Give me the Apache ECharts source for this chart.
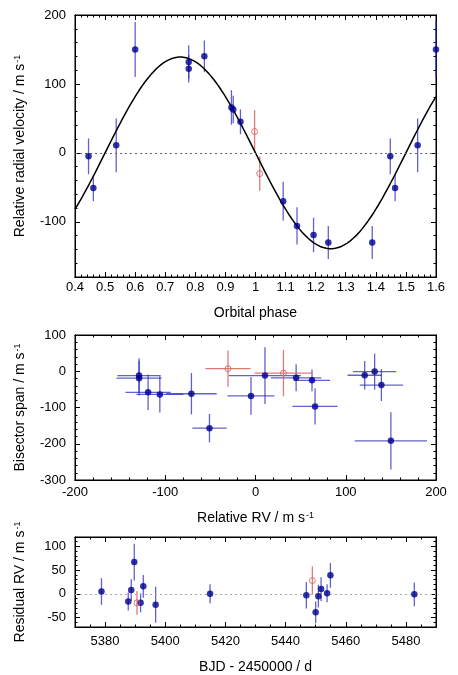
<!DOCTYPE html>
<html>
<head>
<meta charset="utf-8">
<script src="https://cdn.jsdelivr.net/npm/echarts@6/dist/echarts.min.js"></script>
<style>
html, body { margin: 0; padding: 0; background: #fff; }
#main { width: 458px; height: 675px; }
</style>
</head>
<body>
<div id="main"></div>
<script>
// --- top panel: radial velocity vs orbital phase ---
var phaseBlue = [0.445, 0.461, 0.537, 0.600, 0.778, 0.778, 0.830, 0.920, 0.926, 0.950, 1.092, 1.138, 1.193, 1.242, 1.388, 1.448, 1.464, 1.539, 1.600];
var rvBlue    = [-5, -51, 11, 150, 132, 122, 140, 66, 63, 45, -70, -106, -119, -130, -130, -5, -51, 11, 150];
var rvErrBlue = [26, 19, 39, 40, 24, 20, 23, 25, 20, 18, 28, 27, 25, 24, 24, 26, 19, 39, 40];
var phaseRed  = [0.997, 1.014];
var rvRed     = [31, -30];
var rvErrRed  = [31, 25];
var K = 139;          // semi-amplitude of the fitted orbit, m/s

// --- middle panel: bisector span vs relative RV ---
var bsRvBlue    = [-129, -129, -119, -106, -71, -51, -5, 10.5, 45, 62.6, 66, 121, 132, 139.5, 150];
var bsRvErrBlue = [24, 25, 25, 26, 28, 19, 26, 40, 28, 20, 25, 19, 24, 24, 40];
var bsBlue      = [-12, -19, -58, -64, -62, -157, -68, -12, -18, -25, -97, -11, -1, -38, -192];
var bsErrBlue   = [48, 48, 49, 50, 57, 39, 52, 78, 37, 30, 50, 39, 50, 44, 79];
var bsRvRed     = [-30.5, 31];
var bsRvErrRed  = [25, 32];
var bsRed       = [7, -5];
var bsErrRed    = [50, 64];

// --- bottom panel: residuals vs time ---
var bjdBlue    = [5378.8, 5387.7, 5388.7, 5389.7, 5391.8, 5392.7, 5396.8, 5414.9, 5446.9, 5450.0, 5450.9, 5451.8, 5453.8, 5454.9, 5482.8];
var resBlue    = [5, -16, 8, 67, -19, 16, -23, 0, -3, -39, -5, 10, 1, 39, -1];
var resErrBlue = [28, 19, 23, 39, 20, 24, 38, 20, 28, 23, 24, 25, 19, 26, 25];
var bjdRed     = [5390.6, 5448.9];
var resRed     = [-19, 28];
var resErrRed  = [25, 30];

// tick positions
var phaseTicks = [0.4, 0.5, 0.6, 0.7, 0.8, 0.9, 1.0, 1.1, 1.2, 1.3, 1.4, 1.5, 1.6];
var rvTicks    = [-100, 0, 100, 200];
var bsXTicks   = [-200, -100, 0, 100, 200];
var bsYTicks   = [-300, -200, -100, 0, 100];
var bjdTicks   = [5380, 5400, 5420, 5440, 5460, 5480];
var resTicks   = [-50, 0, 50, 100];

var FONT = 'Liberation Sans, Arial, Helvetica, sans-serif';
var BLUE = '#00008f';
var BLUE_BAR = 'rgba(45,45,190,0.75)';
var RED = '#d45a5a';
var RED_BAR = 'rgba(215,100,100,0.85)';

function steps(a, b, step) {
    var out = [];
    for (var i = 0; a + i * step <= b + step * 1e-6; i++) out.push(+(a + i * step).toFixed(6));
    return out;
}

function unitName(txt) {
    return txt + ' / m s{sup|-1}';
}
var nameStyle = {
    fontSize: 14, fontFamily: FONT, color: '#000',
    rich: { sup: { fontSize: 9, fontFamily: FONT, color: '#000', verticalAlign: 'top', padding: [0, 0, 6, 1] } }
};

function oneAxis(grid, pos, min, max, ticks, len, labels, margin, fmt) {
    return {
        type: 'value', gridIndex: grid, position: pos, min: min, max: max,
        axisLine: { show: true, onZero: false, lineStyle: { color: '#000', width: 1 } },
        axisTick: { show: true, inside: true, length: len, customValues: ticks, lineStyle: { color: '#000', width: 1 } },
        axisLabel: { show: labels, customValues: ticks, margin: margin, fontSize: 13, fontFamily: FONT, color: '#000', formatter: fmt },
        splitLine: { show: false }
    };
}

// 4 axes per direction: major + minor ticks on both sides
function axesSet(grid, side1, side2, min, max, majors, minors, margin, fmt, name, gap) {
    var main = oneAxis(grid, side1, min, max, majors, 5, true, margin, fmt);
    main.name = name;
    main.nameLocation = 'middle';
    main.nameGap = gap;
    main.nameTextStyle = nameStyle;
    return [
        main,
        oneAxis(grid, side1, min, max, minors, 2.5, false),
        oneAxis(grid, side2, min, max, majors, 5, false),
        oneAxis(grid, side2, min, max, minors, 2.5, false)
    ];
}

function zip() {
    var cols = Array.prototype.slice.call(arguments);
    return cols[0].map(function (_, i) { return cols.map(function (c) { return c[i]; }); });
}

function yBars(color) {
    return function (params, api) {
        var x = api.value(0), y = api.value(1), e = api.value(2);
        var a = api.coord([x, y - e]), b = api.coord([x, y + e]);
        return { type: 'line', shape: { x1: a[0], y1: a[1], x2: b[0], y2: b[1] }, style: { stroke: color, lineWidth: 1.3 } };
    };
}
function xyBars(color) {
    return function (params, api) {
        var x = api.value(0), y = api.value(1), ex = api.value(2), ey = api.value(3);
        var a = api.coord([x, y - ey]), b = api.coord([x, y + ey]);
        var c = api.coord([x - ex, y]), d = api.coord([x + ex, y]);
        return {
            type: 'group', children: [
                { type: 'line', shape: { x1: a[0], y1: a[1], x2: b[0], y2: b[1] }, style: { stroke: color, lineWidth: 1.3 } },
                { type: 'line', shape: { x1: c[0], y1: c[1], x2: d[0], y2: d[1] }, style: { stroke: color, lineWidth: 1.3 } }
            ]
        };
    };
}

// fitted circular orbit
var model = steps(0.4, 1.6, 0.005).map(function (p) {
    return [p, -K * Math.sin(2 * Math.PI * p)];
});

var fmtPhase = function (v) { return String(+(+v).toFixed(1)); };
var fmtInt = function (v) { return String(Math.round(v)); };

var xAxis = []
    .concat(axesSet(0, 'bottom', 'top', 0.4, 1.6, phaseTicks, steps(0.4, 1.6, 0.02), 4, fmtPhase, 'Orbital phase', 29))
    .concat(axesSet(1, 'bottom', 'top', -200, 200, bsXTicks, steps(-200, 200, 20), 6, fmtInt, unitName('Relative RV'), 31))
    .concat(axesSet(2, 'bottom', 'top', 5370, 5490, bjdTicks, steps(5370, 5490, 5), 8, fmtInt, 'BJD - 2450000 / d', 33));
var yAxis = []
    .concat(axesSet(0, 'left', 'right', -180, 200, rvTicks, steps(-180, 200, 20), 9, fmtInt, unitName('Relative radial velocity'), 47))
    .concat(axesSet(1, 'left', 'right', -300, 100, bsYTicks, steps(-300, 100, 20), 9, fmtInt, unitName('Bisector span'), 47))
    .concat(axesSet(2, 'left', 'right', -70, 120, resTicks, steps(-70, 120, 10), 9, fmtInt, unitName('Residual RV'), 47));

var zeroLine = function (color, dash) {
    return {
        silent: true, symbol: 'none', label: { show: false },
        lineStyle: { color: color, type: dash, width: 1 },
        data: [{ yAxis: 0 }]
    };
};

var dot = { type: 'scatter', symbol: 'circle', symbolSize: 6.5, itemStyle: { color: BLUE }, z: 5, clip: false };
var ring = { type: 'scatter', symbol: 'circle', symbolSize: 6, itemStyle: { color: 'rgba(0,0,0,0)', borderColor: RED, borderWidth: 1 }, z: 5, clip: false };

function withAxes(base, i, data) {
    var s = Object.assign({}, base);
    s.xAxisIndex = i; s.yAxisIndex = i; s.data = data;
    return s;
}

var series = [
    // top
    { type: 'line', xAxisIndex: 0, yAxisIndex: 0, data: model, showSymbol: false, lineStyle: { color: '#000', width: 1.5 }, z: 3, markLine: zeroLine('#666', [2, 3]) },
    { type: 'custom', xAxisIndex: 0, yAxisIndex: 0, data: zip(phaseBlue, rvBlue, rvErrBlue), renderItem: yBars(BLUE_BAR), z: 2 },
    { type: 'custom', xAxisIndex: 0, yAxisIndex: 0, data: zip(phaseRed, rvRed, rvErrRed), renderItem: yBars(RED_BAR), z: 2 },
    withAxes(dot, 0, zip(phaseBlue, rvBlue)),
    withAxes(ring, 0, zip(phaseRed, rvRed)),
    // middle
    { type: 'custom', xAxisIndex: 4, yAxisIndex: 4, data: zip(bsRvBlue, bsBlue, bsRvErrBlue, bsErrBlue), renderItem: xyBars(BLUE_BAR), z: 2 },
    { type: 'custom', xAxisIndex: 4, yAxisIndex: 4, data: zip(bsRvRed, bsRed, bsRvErrRed, bsErrRed), renderItem: xyBars(RED_BAR), z: 2 },
    withAxes(dot, 4, zip(bsRvBlue, bsBlue)),
    withAxes(ring, 4, zip(bsRvRed, bsRed)),
    // bottom
    { type: 'custom', xAxisIndex: 8, yAxisIndex: 8, data: zip(bjdBlue, resBlue, resErrBlue), renderItem: yBars(BLUE_BAR), z: 2 },
    { type: 'custom', xAxisIndex: 8, yAxisIndex: 8, data: zip(bjdRed, resRed, resErrRed), renderItem: yBars(RED_BAR), z: 2 },
    Object.assign(withAxes(dot, 8, zip(bjdBlue, resBlue)), { markLine: zeroLine('#aaa', [2, 3]) }),
    withAxes(ring, 8, zip(bjdRed, resRed))
];

var myChart = echarts.init(document.getElementById('main'), null, { renderer: 'canvas' });
myChart.setOption({
    animation: false,
    backgroundColor: '#fff',
    grid: [
        { left: 75, top: 15, width: 361, height: 262, show: true, borderColor: '#000', borderWidth: 1 },
        { left: 75, top: 335, width: 361, height: 145, show: true, borderColor: '#000', borderWidth: 1 },
        { left: 75, top: 537, width: 361, height: 93, show: true, borderColor: '#000', borderWidth: 1 }
    ],
    xAxis: xAxis,
    yAxis: yAxis,
    series: series
});
</script>
</body>
</html>
